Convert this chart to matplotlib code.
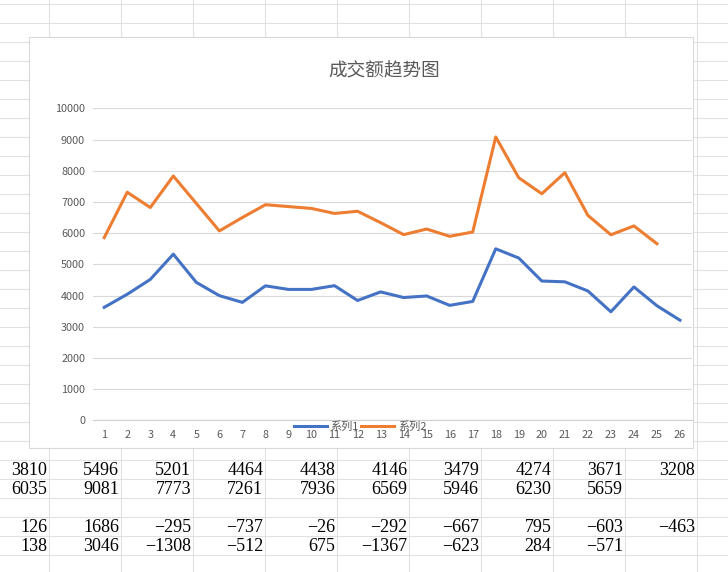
import matplotlib.pyplot as plt
import numpy as np
from matplotlib.lines import Line2D
from matplotlib.patches import Rectangle

plt.rcParams['font.family'] = ['Noto Sans CJK SC', 'DejaVu Sans']

# chart data (x=16.. taken from the cells below)
days = np.arange(1, 27)
s1 = [3620, 4040, 4515, 5325, 4420, 3995, 3780, 4310, 4195, 4195, 4315, 3840, 4115,
      3935, 3985, 3684, 3810, 5496, 5201, 4464, 4438, 4146, 3479, 4274, 3671, 3208]
s2 = [5855, 7310, 6820, 7830, 6950, 6070, 6500, 6910, 6850, 6790, 6630, 6700, 6335,
      5950, 6130, 5897, 6035, 9081, 7773, 7261, 7936, 6569, 5946, 6230, 5659]

# worksheet cells under the chart
row1 = [3810, 5496, 5201, 4464, 4438, 4146, 3479, 4274, 3671, 3208]
row2 = [6035, 9081, 7773, 7261, 7936, 6569, 5946, 6230, 5659]
row4 = [126, 1686, -295, -737, -26, -292, -667, 795, -603, -463]
row5 = [138, 3046, -1308, -512, 675, -1367, -623, 284, -571]

W, H = 728, 572
fig = plt.figure(figsize=(7.28, 5.72), dpi=100)


def fx(x):
    return x / W


def fy(y):
    return 1 - y / H


# sheet grid
for k in range(31):
    y = 4.3 + 19 * k
    fig.add_artist(Line2D([0, 1], [fy(y), fy(y)], color='#e1e1e1', lw=0.8, zorder=0))
for k in range(10):
    x = 49.3 + 72 * k
    fig.add_artist(Line2D([fx(x), fx(x)], [0, 1], color='#e1e1e1', lw=0.8, zorder=0))

# chart box
fig.add_artist(Rectangle((fx(29.3), fy(448.3)), (693.3 - 29.3) / W, (448.3 - 37.3) / H,
                         transform=fig.transFigure, facecolor='white',
                         edgecolor='#d9d9d9', lw=0.8, zorder=1))

ax = fig.add_axes([fx(92.7), fy(420.3), (691.5 - 92.7) / W, (420.3 - 108.3) / H])
ax.set_zorder(2)
ax.patch.set_alpha(0)

ax.plot(days, s1, color='#4472C4', lw=2.2, label='系列1')
ax.plot(days[:len(s2)], s2, color='#ED7D31', lw=2.2, label='系列2')

ax.set_xlim(0.5, 26.5)
ax.set_ylim(0, 10000)
ax.set_xticks(days)
ax.set_yticks(range(0, 10001, 1000))
ax.tick_params(length=0, labelsize=7.8, labelcolor='#595959')
ax.tick_params(axis='y', pad=5.5)
ax.tick_params(axis='x', pad=7)
ax.grid(axis='y', color='#d9d9d9', lw=0.8)
ax.set_axisbelow(True)
for side in ['top', 'right', 'left']:
    ax.spines[side].set_visible(False)
ax.spines['bottom'].set_color('#d0d0d0')
ax.spines['bottom'].set_linewidth(0.8)

ax.legend(loc='center', bbox_to_anchor=(fx(360), fy(427)), bbox_transform=fig.transFigure,
          ncol=2, frameon=False, fontsize=8, handlelength=3, handletextpad=0.3,
          columnspacing=0.2, borderpad=0, labelcolor='#595959')

fig.text(fx(384), fy(71), '成交额趋势图', ha='center', va='center', fontsize=13.4,
         color='#595959')

# numbers in the cells
for vals, yc in [(row1, 470.5), (row2, 489.5), (row4, 527.5), (row5, 546.5)]:
    for j, v in enumerate(vals):
        fig.text(fx(49.3 + 72 * j - 2), fy(yc), str(v).replace('-', '\u2212'),
                 ha='right', va='center', fontsize=13, family='Liberation Serif',
                 color='black')

plt.savefig('out.png', dpi=100)
